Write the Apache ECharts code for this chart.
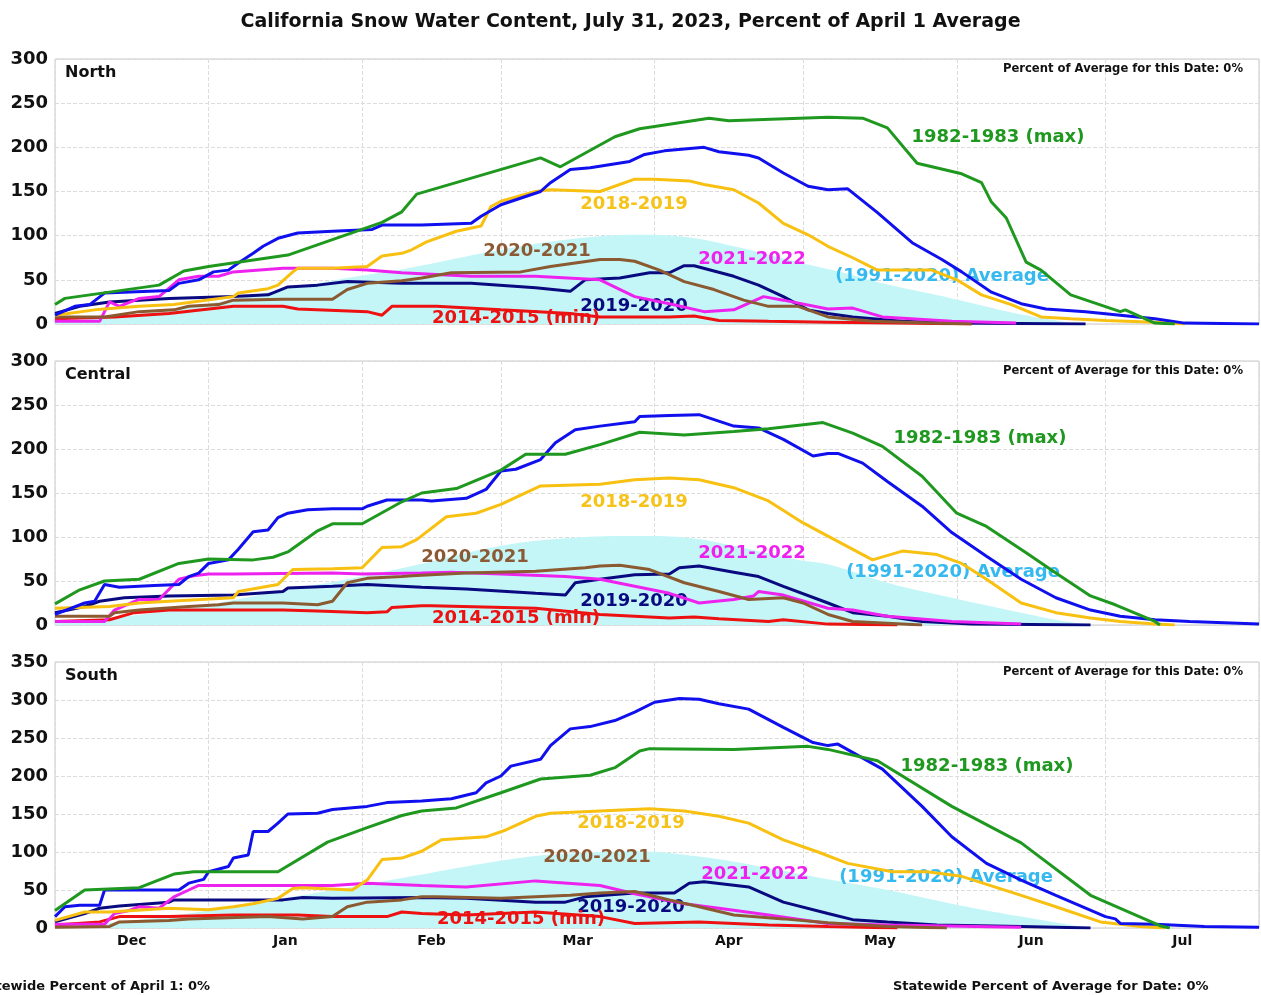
<!DOCTYPE html>
<html><head><meta charset="utf-8">
<script src="https://cdn.jsdelivr.net/npm/echarts/dist/echarts.min.js"></script>
<style>html,body{margin:0;padding:0;background:#fff}#c{width:1261px;height:995px}</style>
</head><body><div id="c"></div><script>
// ---- axis / tick labels ----
const months = ['Dec','Jan','Feb','Mar','Apr','May','Jun','Jul'];
const monthDays = [31,31,28,31,30,31,30,31];
const yMaxNorth = 300, yMaxCentral = 300, yMaxSouth = 350;
const regionNames = ['North','Central','South'];
const seriesNames = ['(1991-2020) Average','2014-2015 (min)','2019-2020','2021-2022','2020-2021','2018-2019','2022-2023','1982-1983 (max)'];

// ---- data: [day since Dec 1, percent of April 1 average] ----
// North
const N_avg  = [[0,2],[10,7],[20,14],[31,23],[45,38],[59,52],[72,64],[90,84],[104,96],[118,101],[128,98],[137,88],[150,70],[160,57],[167,46],[181,29],[194,12],[201,5],[206,0]];
const N_1415 = [[0,6],[12,8],[23,12],[36,20],[46,20],[49,17],[63,14],[66,10],[68,20],[74,20],[77,20],[90,16],[104,12],[110,8],[124,8],[129,9],[134,4],[144,3],[156,2],[170,1],[185,0]];
const N_1920 = [[0,12],[5,20],[11,25],[23,29],[36,31],[43,33],[47,42],[53,44],[59,48],[70,46],[84,46],[97,41],[104,37],[107,50],[114,52],[120,58],[124,58],[127,66],[129,66],[137,54],[142,44],[147,31],[152,16],[156,12],[161,8],[171,3],[181,1],[208,0]];
const N_2122 = [[0,3],[9,3],[11,25],[13,20],[17,29],[21,31],[25,50],[29,54],[33,54],[36,59],[46,63],[56,63],[63,61],[70,58],[84,54],[97,54],[110,50],[117,31],[124,23],[131,14],[137,16],[143,31],[147,27],[156,17],[161,18],[167,8],[181,3],[194,1]];
const N_2021 = [[0,8],[10,8],[17,14],[24,16],[27,20],[33,22],[36,27],[46,28],[56,28],[59,39],[63,46],[70,49],[74,52],[80,58],[94,59],[100,65],[110,73],[114,73],[117,71],[122,61],[127,48],[133,39],[139,27],[144,20],[150,20],[156,8],[165,3],[177,1],[185,0]];
const N_1819 = [[0,10],[8,16],[17,20],[24,22],[36,31],[37,35],[43,40],[45,44],[48,59],[49,63],[56,63],[63,65],[66,77],[70,80],[72,84],[75,93],[81,105],[86,111],[88,133],[90,139],[97,150],[100,152],[110,150],[117,164],[121,164],[128,162],[131,158],[137,152],[142,137],[147,114],[152,101],[156,88],[161,75],[166,61],[177,61],[182,50],[187,33],[193,22],[199,8],[205,6],[212,4],[222,2],[228,0]];
const N_2223 = [[0,10],[4,20],[7,22],[10,35],[23,38],[25,46],[29,50],[32,59],[35,61],[37,69],[40,80],[42,88],[45,97],[49,103],[56,105],[64,107],[66,112],[74,112],[84,114],[86,122],[90,135],[98,150],[100,160],[104,175],[108,177],[116,184],[119,192],[123,196],[131,200],[134,195],[140,191],[142,188],[147,171],[152,156],[156,152],[160,153],[166,126],[173,92],[179,73],[183,59],[189,36],[195,23],[200,17],[208,14],[215,10],[222,6],[228,1],[243,0]];
const N_8283 = [[0,22],[2,29],[21,44],[26,60],[31,65],[47,78],[66,115],[70,127],[73,147],[98,188],[102,178],[113,212],[118,221],[132,233],[136,230],[156,234],[163,233],[168,222],[174,182],[183,170],[187,160],[189,138],[192,120],[196,70],[199,61],[205,33],[215,14],[216,16],[222,1],[226,0]];
// Central
const C_avg  = [[0,2],[10,7],[20,14],[31,23],[45,38],[59,52],[72,67],[90,90],[104,99],[118,101],[128,99],[137,90],[150,74],[156,69],[168,48],[181,31],[195,14],[202,6],[209,0]];
const C_1415 = [[0,4],[11,6],[16,14],[23,17],[36,17],[46,17],[53,16],[63,14],[67,15],[68,20],[74,22],[76,22],[97,19],[110,12],[124,8],[129,9],[134,7],[144,4],[147,6],[156,1],[170,0]];
const C_1920 = [[0,14],[6,21],[9,27],[14,31],[23,33],[36,34],[46,38],[47,42],[56,44],[63,46],[74,43],[83,41],[97,36],[103,34],[105,48],[110,52],[117,57],[124,58],[126,65],[130,67],[137,60],[142,55],[147,44],[156,25],[161,14],[168,10],[175,4],[185,1],[209,0]];
const C_2122 = [[0,4],[10,4],[12,17],[17,29],[21,29],[25,52],[28,56],[31,58],[36,58],[56,59],[62,58],[74,59],[80,60],[90,58],[103,55],[110,52],[117,44],[124,36],[130,25],[137,29],[141,33],[142,38],[147,34],[156,19],[161,17],[168,10],[181,4],[195,1]];
const C_2021 = [[0,10],[11,10],[12,14],[17,17],[27,21],[33,23],[36,25],[46,25],[53,23],[56,27],[59,48],[63,53],[70,55],[72,56],[83,59],[97,61],[107,65],[110,67],[114,68],[120,63],[127,48],[134,38],[140,29],[147,31],[151,25],[156,12],[161,4],[168,2],[175,0]];
const C_1819 = [[0,19],[11,21],[17,25],[23,27],[36,31],[37,38],[45,46],[48,63],[56,64],[62,65],[66,88],[70,89],[73,97],[79,123],[85,127],[90,137],[98,158],[110,160],[117,165],[124,167],[130,165],[137,156],[144,141],[151,116],[156,101],[165,74],[171,84],[178,80],[183,70],[188,52],[195,25],[202,14],[209,8],[215,4],[222,1],[226,0]];
const C_2223 = [[0,12],[6,25],[8,27],[10,46],[13,43],[20,45],[25,46],[27,55],[29,59],[31,70],[35,74],[37,86],[40,106],[43,108],[45,122],[47,127],[51,131],[56,132],[62,132],[63,135],[67,142],[74,142],[76,141],[83,144],[87,154],[90,175],[93,177],[98,188],[101,207],[105,222],[110,226],[117,231],[118,237],[124,238],[130,239],[137,226],[142,224],[147,211],[153,192],[156,195],[158,195],[163,184],[168,163],[175,135],[181,105],[188,78],[195,52],[202,31],[209,17],[215,10],[222,6],[229,4],[243,1]];
const C_8283 = [[0,24],[5,40],[10,50],[17,52],[25,70],[31,75],[40,74],[44,77],[47,83],[53,107],[56,115],[62,115],[70,140],[74,150],[81,155],[90,176],[95,194],[103,194],[110,205],[118,219],[127,216],[137,220],[144,223],[155,230],[161,218],[167,203],[175,169],[182,127],[188,112],[196,82],[202,59],[209,33],[214,23],[222,4],[223,0]];
// South
const S_avg  = [[0,2],[10,6],[20,13],[31,23],[45,38],[59,53],[72,68],[83,81],[96,94],[104,98],[117,101],[130,94],[144,79],[156,64],[168,50],[181,32],[195,15],[208,1],[210,0]];
const S_1415 = [[0,4],[9,8],[13,15],[23,15],[36,17],[49,17],[56,15],[67,15],[70,21],[74,19],[83,17],[97,21],[110,15],[117,6],[130,8],[144,4],[156,2],[170,0]];
const S_1920 = [[0,8],[6,19],[9,26],[13,29],[23,34],[24,37],[46,37],[50,40],[56,39],[74,40],[83,39],[97,34],[103,34],[107,41],[117,46],[125,46],[128,59],[131,61],[140,54],[147,34],[156,19],[161,11],[168,8],[178,4],[195,2],[209,0]];
const S_2122 = [[0,5],[10,5],[12,19],[15,23],[17,28],[21,26],[24,41],[27,50],[29,56],[56,56],[63,59],[74,56],[83,54],[97,62],[110,56],[117,45],[127,32],[134,26],[144,17],[156,6],[168,4],[195,1]];
const S_2021 = [[0,1],[11,2],[13,8],[23,10],[27,12],[43,15],[50,12],[56,15],[59,28],[63,34],[70,37],[74,41],[77,41],[90,39],[104,43],[110,46],[117,48],[124,37],[130,28],[137,17],[147,12],[156,7],[168,2],[180,0]];
const S_1819 = [[0,10],[6,21],[11,21],[23,26],[31,24],[36,28],[40,32],[45,39],[48,52],[50,53],[60,50],[63,63],[66,90],[70,92],[74,101],[78,116],[87,120],[91,129],[97,147],[100,151],[110,154],[120,157],[127,154],[134,147],[140,138],[147,116],[154,100],[160,85],[169,74],[176,74],[183,68],[195,43],[202,28],[211,8],[219,2],[224,0]];
const S_2223 = [[0,15],[2,28],[5,30],[9,30],[10,50],[25,50],[27,59],[30,64],[31,74],[35,81],[36,92],[39,96],[40,127],[43,127],[45,138],[47,150],[53,151],[56,156],[63,160],[67,165],[74,167],[80,170],[85,178],[87,191],[90,200],[92,213],[98,222],[100,240],[104,262],[108,265],[113,273],[117,284],[121,297],[126,302],[130,301],[134,295],[140,288],[147,264],[153,244],[156,240],[158,242],[167,209],[175,160],[181,120],[188,85],[195,63],[202,43],[212,15],[214,12],[215,6],[222,5],[232,2],[243,1]];
const S_8283 = [[0,23],[6,50],[17,53],[24,71],[28,74],[45,74],[55,113],[63,132],[70,148],[74,154],[81,158],[90,178],[98,196],[108,201],[113,211],[118,233],[120,236],[137,235],[152,239],[156,235],[166,220],[181,160],[195,112],[209,43],[223,3],[225,0]];

// ---- build ----
const FONT = 'DejaVu Sans';
const monthStarts = [0];
monthDays.forEach((d,i)=>monthStarts.push(monthStarts[i]+d));
const totalDays = monthStarts[monthStarts.length-1];
const monthMids = monthDays.map((d,i)=>monthStarts[i]+d/2);

const panels = [
  {data:[N_avg,N_1415,N_1920,N_2122,N_2021,N_1819,N_2223,N_8283], max:yMaxNorth, top:59, height:265},
  {data:[C_avg,C_1415,C_1920,C_2122,C_2021,C_1819,C_2223,C_8283], max:yMaxCentral, top:361, height:264},
  {data:[S_avg,S_1415,S_1920,S_2122,S_2021,S_1819,S_2223,S_8283], max:yMaxSouth, top:662, height:266}
];
const lineColors = ['#c4f6f8','#ee1111','#0a0a80','#ee22ee','#8b5a30','#f8c010','#1010ee','#1f981f'];
const textColors = {'(1991-2020) Average':'#35b9ef','2014-2015 (min)':'#ee1111','2019-2020':'#0a0a80','2021-2022':'#ee22ee','2020-2021':'#8b5a35','2018-2019':'#f5c31a','1982-1983 (max)':'#1f981f'};
const labelPos = [
  {'1982-1983 (max)':[998,137],'2018-2019':[634,204],'2020-2021':[537,251],'2021-2022':[752,259],'(1991-2020) Average':[942,276],'2019-2020':[634,306],'2014-2015 (min)':[516,318]},
  {'1982-1983 (max)':[980,438],'2018-2019':[634,502],'2020-2021':[475,557],'2021-2022':[752,553],'(1991-2020) Average':[953,572],'2019-2020':[634,601],'2014-2015 (min)':[516,618]},
  {'1982-1983 (max)':[987,766],'2018-2019':[631,823],'2020-2021':[597,857],'2021-2022':[755,874],'(1991-2020) Average':[946,877],'2019-2020':[631,907],'2014-2015 (min)':[521,919]}
];

const grid=[], xAxis=[], yAxis=[], series=[], graphic=[];
panels.forEach((p,i)=>{
  grid.push({left:55,right:2,top:p.top,height:p.height,show:true,borderColor:'#c8c8c8',borderWidth:1});
  xAxis.push({type:'value',gridIndex:i,min:0,max:totalDays,
    axisLine:{show:false},
    axisTick:{show:false,customValues:monthStarts},
    splitLine:{show:true,customValues:monthStarts,lineStyle:{type:'dashed',color:'#dcdcdc'}},
    axisLabel: i===2 ? {show:true,customValues:monthMids,margin:6,fontFamily:FONT,fontWeight:'bold',fontSize:14,color:'#111',
      formatter:v=>{const k=monthMids.indexOf(v);return k>=0?months[k]:'';}} : {show:false}
  });
  yAxis.push({type:'value',gridIndex:i,min:0,max:p.max,interval:50,
    axisLine:{show:false},axisTick:{show:false},
    splitLine:{lineStyle:{type:'dashed',color:'#dcdcdc'}},
    axisLabel:{fontFamily:FONT,fontWeight:'bold',fontSize:18,color:'#111',margin:7}
  });
  p.data.forEach((d,k)=>{
    const isAvg = k===0;
    series.push({
      type:'line',name:seriesNames[k],xAxisIndex:i,yAxisIndex:i,data:d,
      showSymbol:false,symbol:'none',smooth:isAvg?0.4:false,
      z: isAvg?1:3+k,
      lineStyle:{width:isAvg?0:3,color:lineColors[k]},
      areaStyle: isAvg?{color:lineColors[0],opacity:1}:undefined,
      silent:true,animation:false
    });
  });
  graphic.push({type:'text',left:65,top:p.top+6,z:5,style:{text:regionNames[i],font:'bold 16px "DejaVu Sans"',fill:'#111'}});
  graphic.push({type:'text',right:18,top:p.top+4,z:5,style:{text:'Percent of Average for this Date: 0%',font:'bold 11.6px "DejaVu Sans"',fill:'#111'}});
  Object.keys(labelPos[i]).forEach(name=>{
    const [x,y]=labelPos[i][name];
    graphic.push({type:'text',x:x,y:y,z:2,style:{text:name,font:'bold 18px "DejaVu Sans"',fill:textColors[name],align:'center',verticalAlign:'middle'}});
  });
});
graphic.push({type:'text',x:210,y:987,z:5,style:{text:'Statewide Percent of April 1: 0%',font:'bold 13px "DejaVu Sans"',fill:'#111',align:'right',verticalAlign:'middle'}});
graphic.push({type:'text',x:893,y:987,z:5,style:{text:'Statewide Percent of Average for Date: 0%',font:'bold 13px "DejaVu Sans"',fill:'#111',align:'left',verticalAlign:'middle'}});

const chart = echarts.init(document.getElementById('c'),null,{renderer:'canvas'});
chart.setOption({
  backgroundColor:'#fff',animation:false,
  title:{text:'California Snow Water Content, July 31, 2023, Percent of April 1 Average',left:'center',top:8,
    textStyle:{fontFamily:FONT,fontWeight:'bold',fontSize:19,color:'#111'}},
  grid,xAxis,yAxis,series,graphic
});
</script></body></html>
